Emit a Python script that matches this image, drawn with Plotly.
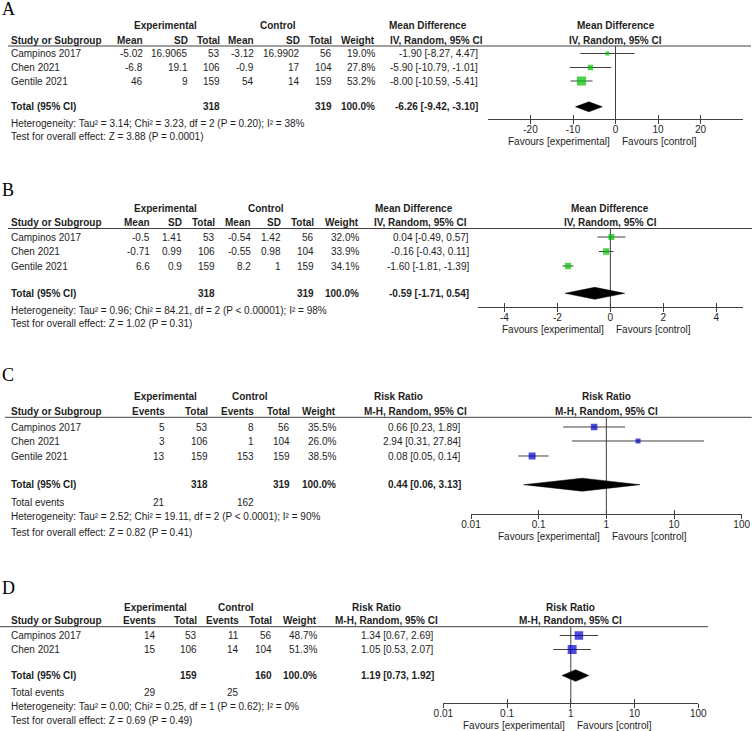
import plotly.graph_objects as go

# ---------------- data ----------------
studies_3 = ["Campinos 2017", "Chen 2021", "Gentile 2021"]
studies_2 = ["Campinos 2017", "Chen 2021"]

# Panel A (mean difference)
a_exp_mean = [-5.02, -6.8, 46]
a_exp_sd = [16.9065, 19.1, 9]
a_exp_n = [53, 106, 159]
a_ctl_mean = [-3.12, -0.9, 54]
a_ctl_sd = [16.9902, 17, 14]
a_ctl_n = [56, 104, 159]
a_weight = [19.0, 27.8, 53.2]
a_est = [-1.90, -5.90, -8.00]
a_lo = [-8.27, -10.79, -10.59]
a_hi = [4.47, -1.01, -5.41]
a_total = [-6.26, -9.42, -3.10]
a_total_n = [318, 319]
a_het = "Heterogeneity: Tau² = 3.14; Chi² = 3.23, df = 2 (P = 0.20); I² = 38%"
a_test = "Test for overall effect: Z = 3.88 (P = 0.0001)"

# Panel B (mean difference)
b_exp_mean = [-0.5, -0.71, 6.6]
b_exp_sd = [1.41, 0.99, 0.9]
b_exp_n = [53, 106, 159]
b_ctl_mean = [-0.54, -0.55, 8.2]
b_ctl_sd = [1.42, 0.98, 1]
b_ctl_n = [56, 104, 159]
b_weight = [32.0, 33.9, 34.1]
b_est = [0.04, -0.16, -1.60]
b_lo = [-0.49, -0.43, -1.81]
b_hi = [0.57, 0.11, -1.39]
b_total = [-0.59, -1.71, 0.54]
b_total_n = [318, 319]
b_het = "Heterogeneity: Tau² = 0.96; Chi² = 84.21, df = 2 (P &lt; 0.00001); I² = 98%"
b_test = "Test for overall effect: Z = 1.02 (P = 0.31)"

# Panel C (risk ratio)
c_exp_ev = [5, 3, 13]
c_exp_n = [53, 106, 159]
c_ctl_ev = [8, 1, 153]
c_ctl_n = [56, 104, 159]
c_weight = [35.5, 26.0, 38.5]
c_est = [0.66, 2.94, 0.08]
c_lo = [0.23, 0.31, 0.05]
c_hi = [1.89, 27.84, 0.14]
c_total = [0.44, 0.06, 3.13]
c_total_n = [318, 319]
c_total_ev = [21, 162]
c_het = "Heterogeneity: Tau² = 2.52; Chi² = 19.11, df = 2 (P &lt; 0.0001); I² = 90%"
c_test = "Test for overall effect: Z = 0.82 (P = 0.41)"

# Panel D (risk ratio)
d_exp_ev = [14, 15]
d_exp_n = [53, 106]
d_ctl_ev = [11, 14]
d_ctl_n = [56, 104]
d_weight = [48.7, 51.3]
d_est = [1.34, 1.05]
d_lo = [0.67, 0.53]
d_hi = [2.69, 2.07]
d_total = [1.19, 0.73, 1.92]
d_total_n = [159, 160]
d_total_ev = [29, 25]
d_het = "Heterogeneity: Tau² = 0.00; Chi² = 0.25, df = 1 (P = 0.62); I² = 0%"
d_test = "Test for overall effect: Z = 0.69 (P = 0.49)"

md_ticks = [[-20, -10, 0, 10, 20], [-4, -2, 0, 2, 4]]
rr_ticks = [0.01, 0.1, 1, 10, 100]
rr_ticktext = ["0.01", "0.1", "1", "10", "100"]

# ---------------- styling / layout helpers ----------------
W, H = 752, 731
FONT = "Liberation Sans, Arial, sans-serif"
TXT = "#1e1e1e"
LINE = "#404040"
GREEN = "#00C000"
BLUE = "#0000C8"

annotations = []
shapes = []
layout_axes = {}
fig = go.Figure()


def text(x, y, s, anchor="right", bold=False, size=10, family=FONT, color=TXT):
    if bold:
        s = f"<b>{s}</b>"
    annotations.append(dict(x=x / W, y=1 - y / H, xref="paper", yref="paper", text=s,
                            showarrow=False, xanchor=anchor, yanchor="middle",
                            borderpad=0, font=dict(family=family, size=size, color=color)))


def hline(y, x0, x1):
    shapes.append(dict(type="line", xref="paper", yref="paper", x0=x0 / W, x1=x1 / W,
                       y0=1 - y / H, y1=1 - y / H, line=dict(color=LINE, width=1)))


def fmt(v):
    return f"{v:g}"


def ci(e, l, h):
    return f"{e:.2f} [{l:.2f}, {h:.2f}]"


def forest(k, cfg, est, lo, hi, weight, total, color, log, tickvals, ticktext, title1, title2):
    xa = "x" if k == 1 else f"x{k}"
    ya = "y" if k == 1 else f"y{k}"
    xo = f"x{k + 4}"
    ref = 1 if log else 0
    rows = cfg["rows"]
    xs, ys = [], []
    for l, h, r in zip(lo, hi, rows):
        xs += [l, h, None]
        ys += [r, r, None]
    fig.add_trace(go.Scatter(x=[ref, ref], y=[cfg["line"], cfg["axis"]], mode="lines",
                             line=dict(color=LINE, width=1), xaxis=xa, yaxis=ya, hoverinfo="skip"))
    fig.add_trace(go.Scatter(x=xs, y=ys, mode="lines", line=dict(color=LINE, width=1),
                             xaxis=xa, yaxis=ya, hoverinfo="skip"))
    fig.add_trace(go.Scatter(x=est, y=rows, mode="markers",
                             marker=dict(symbol="square", color=color,
                                         size=[1 + 0.155 * w for w in weight], line=dict(width=0)),
                             xaxis=xa, yaxis=ya))
    te, tl, th = total
    ty, dh = cfg["total"], cfg["dh"]
    fig.add_trace(go.Scatter(x=[tl, te, th, te, tl], y=[ty, ty - dh / 2, ty, ty + dh / 2, ty],
                             mode="lines", fill="toself", fillcolor="black",
                             line=dict(color="black", width=0.5), xaxis=xa, yaxis=ya, hoverinfo="skip"))
    fig.add_trace(go.Scatter(x=[tickvals[2]], y=[ty], mode="markers", opacity=0,
                             xaxis=xo, yaxis=ya, hoverinfo="skip"))
    x0, x1 = cfg["fx"]
    dom = [x0 / W, x1 / W]
    rng = [-2, 2] if log else cfg["range"]
    common = dict(domain=dom, range=rng, type="log" if log else "linear", tickvals=tickvals,
                  showgrid=False, zeroline=False, anchor=ya, fixedrange=True, automargin=False,
                  ticklen=4, tickwidth=1, tickcolor=LINE)
    layout_axes[("xaxis" if k == 1 else f"xaxis{k}")] = dict(
        **common, ticktext=ticktext, ticks="outside", showline=True, linecolor=LINE, linewidth=1,
        tickfont=dict(family=FONT, size=10, color=TXT), ticklabelstandoff=-3)
    layout_axes[f"xaxis{k + 4}"] = dict(**common, overlaying=xa, ticks="inside",
                                        showticklabels=False, showline=False)
    layout_axes[("yaxis" if k == 1 else f"yaxis{k}")] = dict(
        domain=[1 - cfg["axis"] / H, 1 - cfg["line"] / H], range=[cfg["axis"], cfg["line"]],
        visible=False, fixedrange=True, automargin=False)
    for s, dy in ((title1, cfg["h1"]), (title2, cfg["h2"])):
        annotations.append(dict(x=0.5, y=1 - dy / H, xref=f"{xa} domain", yref="paper", text=f"<b>{s}</b>",
                                showarrow=False, xanchor="center", yanchor="middle", borderpad=0,
                                font=dict(family=FONT, size=10, color=TXT)))
    for s, anc, sh in (("Favours [experimental]", "right", -5), ("Favours [control]", "left", 5)):
        annotations.append(dict(x=0, y=1 - cfg["fav"] / H, xref=xa, yref="paper", text=s, xshift=sh,
                                showarrow=False, xanchor=anc, yanchor="middle", borderpad=0,
                                font=dict(family=FONT, size=10, color=TXT)))


# ---------------- panel A ----------------
A = dict(letter=9, h1=26, h2=40, line=46, lx=(8, 751), rows=[53.5, 67.5, 81], total=106.8,
         het=123, test=136, axis=119.3, fx=(488, 743), range=[-30, 30], fav=141, dh=10)
text(1, A["letter"], "A", anchor="left", size=18, family="Liberation Serif, Times New Roman, serif", color="black")
colsA = [144, 189, 221, 255, 301, 333, 376, 479]
text(165, A["h1"], "Experimental", "center", True)
text(277.5, A["h1"], "Control", "center", True)
text(388, A["h1"], "Mean Difference", "left", True)
text(10, A["h2"], "Study or Subgroup", "left", True)
for x, s in zip(colsA[:7], ["Mean", "SD", "Total", "Mean", "SD", "Total", "Weight"]):
    text(x, A["h2"], s, "right", True)
text(389, A["h2"], "IV, Random, 95% CI", "left", True)
hline(A["line"], *A["lx"])
for i, r in enumerate(A["rows"]):
    text(10, r, studies_3[i], "left")
    cells = [fmt(a_exp_mean[i]), fmt(a_exp_sd[i]), str(a_exp_n[i]), fmt(a_ctl_mean[i]),
             fmt(a_ctl_sd[i]), str(a_ctl_n[i]), f"{a_weight[i]:.1f}%", ci(a_est[i], a_lo[i], a_hi[i])]
    for x, s in zip(colsA, cells):
        text(x, r, s)
text(10, A["total"], "Total (95% CI)", "left", True)
text(colsA[2], A["total"], str(a_total_n[0]), "right", True)
text(colsA[5], A["total"], str(a_total_n[1]), "right", True)
text(colsA[6], A["total"], "100.0%", "right", True)
text(colsA[7], A["total"], ci(*a_total), "right", True)
text(10, A["het"], a_het, "left")
text(10, A["test"], a_test, "left")
forest(1, A, a_est, a_lo, a_hi, a_weight, a_total, GREEN, False, md_ticks[0],
       [str(v) for v in md_ticks[0]], "Mean Difference", "IV, Random, 95% CI")

# ---------------- panel B ----------------
B = dict(letter=190, h1=208, h2=222.7, line=228.5, lx=(8, 752), rows=[237, 251.5, 266], total=293.3,
         het=310.7, test=323.3, axis=306.7, fx=(478, 742.7), range=[-5, 5], fav=329.3, dh=12)
text(1, B["letter"], "B", anchor="left", size=18, family="Liberation Serif, Times New Roman, serif", color="black")
colsB = [150.7, 183, 216, 251.7, 281.7, 315, 360, 470]
text(165, B["h1"], "Experimental", "center", True)
text(266, B["h1"], "Control", "center", True)
text(374, B["h1"], "Mean Difference", "left", True)
text(10, B["h2"], "Study or Subgroup", "left", True)
for x, s in zip(colsB[:7], ["Mean", "SD", "Total", "Mean", "SD", "Total", "Weight"]):
    text(x, B["h2"], s, "right", True)
text(373, B["h2"], "IV, Random, 95% CI", "left", True)
hline(B["line"], *B["lx"])
for i, r in enumerate(B["rows"]):
    text(10, r, studies_3[i], "left")
    cells = [fmt(b_exp_mean[i]), fmt(b_exp_sd[i]), str(b_exp_n[i]), fmt(b_ctl_mean[i]),
             fmt(b_ctl_sd[i]), str(b_ctl_n[i]), f"{b_weight[i]:.1f}%", ci(b_est[i], b_lo[i], b_hi[i])]
    for x, s in zip(colsB, cells):
        text(x, r, s)
text(10, B["total"], "Total (95% CI)", "left", True)
text(colsB[2], B["total"], str(b_total_n[0]), "right", True)
text(colsB[5], B["total"], str(b_total_n[1]), "right", True)
text(colsB[6], B["total"], "100.0%", "right", True)
text(colsB[7], B["total"], ci(*b_total), "right", True)
text(10, B["het"], b_het, "left")
text(10, B["test"], b_test, "left")
forest(2, B, b_est, b_lo, b_hi, b_weight, b_total, GREEN, False, md_ticks[1],
       [str(v) for v in md_ticks[1]], "Mean Difference", "IV, Random, 95% CI")

# ---------------- panel C ----------------
C = dict(letter=375, h1=396.7, h2=411, line=417.3, lx=(5, 751.7), rows=[427, 441, 456], total=484.7,
         events=502.3, het=516.7, test=532.3, axis=514, fx=(471, 741.7), fav=536.7, dh=13)
text(1, C["letter"], "C", anchor="left", size=18, family="Liberation Serif, Times New Roman, serif", color="black")
colsC = [165.7, 209.3, 255.3, 290.7, 337.3, 461.7]
text(165, C["h1"], "Experimental", "center", True)
text(249.7, C["h1"], "Control", "center", True)
text(398, C["h1"], "Risk Ratio", "center", True)
text(10, C["h2"], "Study or Subgroup", "left", True)
for x, s in zip(colsC[:5], ["Events", "Total", "Events", "Total", "Weight"]):
    text(x, C["h2"], s, "right", True)
text(468.3, C["h2"], "M-H, Random, 95% CI", "right", True)
hline(C["line"], *C["lx"])
for i, r in enumerate(C["rows"]):
    text(10, r, studies_3[i], "left")
    cells = [str(c_exp_ev[i]), str(c_exp_n[i]), str(c_ctl_ev[i]), str(c_ctl_n[i]),
             f"{c_weight[i]:.1f}%", ci(c_est[i], c_lo[i], c_hi[i])]
    for x, s in zip(colsC, cells):
        text(x, r, s)
text(10, C["total"], "Total (95% CI)", "left", True)
text(colsC[1], C["total"], str(c_total_n[0]), "right", True)
text(colsC[3], C["total"], str(c_total_n[1]), "right", True)
text(colsC[4], C["total"], "100.0%", "right", True)
text(colsC[5], C["total"], ci(*c_total), "right", True)
text(10, C["events"], "Total events", "left")
text(colsC[0], C["events"], str(c_total_ev[0]))
text(colsC[2], C["events"], str(c_total_ev[1]))
text(10, C["het"], c_het, "left")
text(10, C["test"], c_test, "left")
forest(3, C, c_est, c_lo, c_hi, c_weight, c_total, BLUE, True, rr_ticks, rr_ticktext,
       "Risk Ratio", "M-H, Random, 95% CI")

# ---------------- panel D ----------------
D = dict(letter=588.3, h1=607.3, h2=620.7, line=626.7, lx=(0, 708), rows=[635.5, 649.5], total=675.5,
         events=692.3, het=706, test=720, axis=703.3, fx=(443.3, 698.3), fav=725, dh=11.7)
text(1, D["letter"], "D", anchor="left", size=18, family="Liberation Serif, Times New Roman, serif", color="black")
colsD = [156.7, 197.7, 240, 273.3, 318.3, 435]
text(155.5, D["h1"], "Experimental", "center", True)
text(236, D["h1"], "Control", "center", True)
text(376.7, D["h1"], "Risk Ratio", "center", True)
text(10, D["h2"], "Study or Subgroup", "left", True)
for x, s in zip(colsD[:5], ["Events", "Total", "Events", "Total", "Weight"]):
    text(x, D["h2"], s, "right", True)
text(439.3, D["h2"], "M-H, Random, 95% CI", "right", True)
hline(D["line"], *D["lx"])
for i, r in enumerate(D["rows"]):
    text(10, r, studies_2[i], "left")
    cells = [str(d_exp_ev[i]), str(d_exp_n[i]), str(d_ctl_ev[i]), str(d_ctl_n[i]),
             f"{d_weight[i]:.1f}%", ci(d_est[i], d_lo[i], d_hi[i])]
    for x, s in zip(colsD, cells):
        text(x, r, s)
text(10, D["total"], "Total (95% CI)", "left", True)
text(colsD[1], D["total"], str(d_total_n[0]), "right", True)
text(colsD[3], D["total"], str(d_total_n[1]), "right", True)
text(colsD[4], D["total"], "100.0%", "right", True)
text(colsD[5], D["total"], ci(*d_total), "right", True)
text(10, D["events"], "Total events", "left")
text(colsD[0], D["events"], str(d_total_ev[0]))
text(colsD[2], D["events"], str(d_total_ev[1]))
text(10, D["het"], d_het, "left")
text(10, D["test"], d_test, "left")
forest(4, D, d_est, d_lo, d_hi, d_weight, d_total, BLUE, True, rr_ticks, rr_ticktext,
       "Risk Ratio", "M-H, Random, 95% CI")

fig.update_layout(template="none", width=W, height=H, margin=dict(l=0, r=0, t=0, b=0, pad=0),
                  showlegend=False, paper_bgcolor="white", plot_bgcolor="rgba(0,0,0,0)",
                  hovermode=False, annotations=annotations, shapes=shapes, **layout_axes)
fig.write_html("out.html", config={"displayModeBar": False, "staticPlot": True},
               post_script="document.body.style.margin='0px';")
